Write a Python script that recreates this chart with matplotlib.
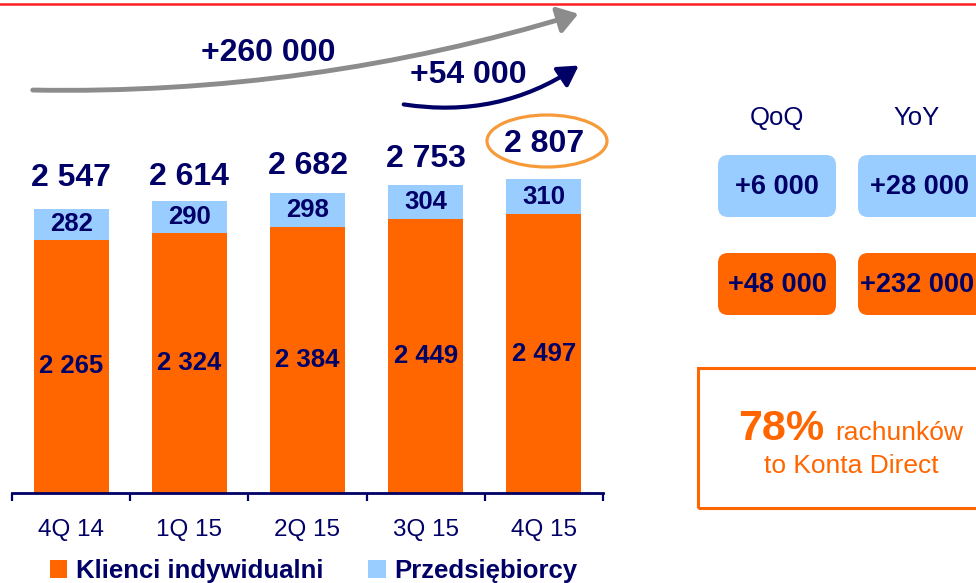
import matplotlib
matplotlib.use("Agg")
import matplotlib.pyplot as plt
from matplotlib.patches import FancyArrowPatch, FancyBboxPatch, Ellipse, Rectangle
from matplotlib.lines import Line2D

plt.rcParams['font.family'] = ['Liberation Sans', 'DejaVu Sans']

# ---- data ----
categories = ['4Q 14', '1Q 15', '2Q 15', '3Q 15', '4Q 15']
individual = [2265, 2324, 2384, 2449, 2497]      # Klienci indywidualni
business = [282, 290, 298, 304, 310]             # Przedsiębiorcy
series_names = ['Klienci indywidualni', 'Przedsiębiorcy']
growth_all = '+260 000'
growth_last = '+54 000'
qoq_labels = ['+6 000', '+48 000']
yoy_labels = ['+28 000', '+232 000']
share_text = '78%'

# ---- style ----
NAVY = '#000066'
ORANGE = '#FF6600'
BLUE = '#99CCFF'
GRAY = '#8C8C8C'
ELLIPSE_C = '#F79A3A'
total_gap_px = [31, 24, 27, 26, 35]

W, H = 976, 583
fig = plt.figure(figsize=(W / 100, H / 100), dpi=100)
inch = fig.dpi_scale_trans


def P(x, y):
    """pixel (from top-left) -> inches from bottom-left"""
    return (x / 100, (H - y) / 100)


ax = fig.add_axes([12 / W, 90 / H, 591 / W, 493 / H])
px_per_unit = 0.1117
ax.set_xlim(-0.5, len(categories) - 0.5)
ax.set_ylim(0, 493 / px_per_unit)

x = list(range(len(categories)))
totals = [a + b for a, b in zip(individual, business)]
bw = 0.635
b1 = ax.bar(x, individual, bw, color=ORANGE, label=series_names[0], zorder=2)
b2 = ax.bar(x, business, bw, bottom=individual, color=BLUE, label=series_names[1], zorder=2)


def fmt(v):
    return f"{v:,}".replace(",", " ")


ax.bar_label(b1, labels=[fmt(v) for v in individual], label_type='center',
             color=NAVY, fontsize=18.5, fontweight='bold')
ax.bar_label(b2, labels=[fmt(v) for v in business], label_type='center',
             color=NAVY, fontsize=18.5, fontweight='bold')
for i, t in enumerate(totals):
    ax.annotate(fmt(t), (i, t), xytext=(0, total_gap_px[i] * 0.72),
                textcoords='offset points', ha='center', va='center',
                color=NAVY, fontsize=23, fontweight='bold')

# axes styling
for s in ['top', 'right', 'left']:
    ax.spines[s].set_visible(False)
ax.spines['bottom'].set_color(NAVY)
ax.spines['bottom'].set_linewidth(2)
ax.set_yticks([])
ax.set_xticks([i - 0.5 for i in range(len(categories) + 1)])
ax.set_xticklabels([])
ax.tick_params(axis='x', which='major', direction='out', length=6, width=1.6, color=NAVY)
ax.set_xticks(x, minor=True)
ax.set_xticklabels(categories, minor=True)
ax.tick_params(axis='x', which='minor', length=0, pad=19, labelsize=17.5, labelcolor=NAVY)

# legend
ax.legend(loc='center left', bbox_to_anchor=(50 / W, 1 - 571 / H),
          bbox_transform=fig.transFigure, ncol=2, frameon=False,
          prop={'weight': 'bold', 'size': 18.5}, labelcolor=NAVY,
          handlelength=0.68, handleheight=0.68, handletextpad=0.33,
          columnspacing=1.75, borderpad=0, borderaxespad=0)

# top red line
fig.add_artist(Line2D([0, 1], [1 - 4 / H, 1 - 4 / H], transform=fig.transFigure,
                      color='#FF2020', lw=1.8))

# growth arrows
a1 = FancyArrowPatch(P(30, 90), P(581, 13), transform=inch,
                     connectionstyle='arc3,rad=0.08', arrowstyle='-|>,head_length=12,head_width=8',
                     mutation_scale=1, color=GRAY, lw=3.5)
fig.add_artist(a1)
a2 = FancyArrowPatch(P(401, 104), P(581, 64), transform=inch,
                     connectionstyle='arc3,rad=0.2', arrowstyle='-|>,head_length=12,head_width=7',
                     mutation_scale=1, color=NAVY, lw=3)
fig.add_artist(a2)
fig.text(268 / W, 1 - 53 / H, growth_all, ha='center', va='center',
         color=NAVY, fontsize=23, fontweight='bold')
fig.text(468 / W, 1 - 75 / H, growth_last, ha='center', va='center',
         color=NAVY, fontsize=23, fontweight='bold')

# highlight ellipse around last total
fig.add_artist(Ellipse(P(547, 141), 1.20, 0.52, transform=inch, fc='none',
                       ec=ELLIPSE_C, lw=2.3))

# right panel
fig.text(777 / W, 1 - 118 / H, 'QoQ', ha='center', va='center', color=NAVY, fontsize=18.5)
fig.text(917 / W, 1 - 118 / H, 'YoY', ha='center', va='center', color=NAVY, fontsize=18.5)
boxes = [((718, 155), BLUE, qoq_labels[0], 777),
         ((858, 155), BLUE, yoy_labels[0], 919),
         ((718, 253), ORANGE, qoq_labels[1], 777),
         ((858, 253), ORANGE, yoy_labels[1], 917)]
for (bx, by), col, lab, tx in boxes:
    bw_px = 118 if bx == 718 else 130
    x0, y1 = P(bx, by + 62)
    fig.add_artist(FancyBboxPatch((x0, y1), bw_px / 100, 0.62, transform=inch,
                                  boxstyle='round,pad=0,rounding_size=0.1',
                                  fc=col, ec='none'))
    fig.text(tx / W, 1 - (by + 32) / H, lab, ha='center', va='center',
             color=NAVY, fontsize=19.5, fontweight='bold')

# share box
x0, y0 = P(698, 508)
fig.add_artist(Rectangle((x0, y0), 3.2, 1.40, transform=inch, fc='none',
                         ec=ORANGE, lw=2.2))
fig.text(738 / W, 1 - 440 / H, share_text, ha='left', va='baseline',
         color=ORANGE, fontsize=31, fontweight='bold')
fig.text(835 / W, 1 - 440 / H, 'rachunków', ha='left', va='baseline',
         color=ORANGE, fontsize=19)
fig.text(851 / W, 1 - 466 / H, 'to Konta Direct', ha='center', va='center',
         color=ORANGE, fontsize=19)

fig.savefig('out.png', dpi=100)
